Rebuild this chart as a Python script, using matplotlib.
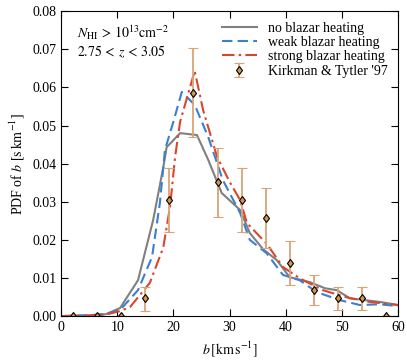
import matplotlib
matplotlib.use('Agg')
import matplotlib.pyplot as plt

plt.rcParams['font.family'] = ['Liberation Serif', 'DejaVu Serif']
plt.rcParams['mathtext.fontset'] = 'stix'
plt.rcParams['font.size'] = 10

# simulated curves
b_none = [0, 5, 8, 10.5, 13.7, 16.4, 18.2, 18.8, 21.2, 24.2, 26.2, 28.6, 31.9, 33.6, 36, 38.4, 40.7, 44.3, 47, 49.1, 51.4, 54, 56.8, 60]
pdf_none = [0, 0.0002, 0.0005, 0.0021, 0.0094, 0.0252, 0.039, 0.0443, 0.048, 0.0475, 0.041, 0.0323, 0.0278, 0.0218, 0.0175, 0.0147, 0.0102, 0.0089, 0.0073, 0.0068, 0.0047, 0.0042, 0.0037, 0.0029]

b_weak = [0, 5, 8, 10.5, 13.7, 16.2, 17.6, 18.5, 20, 21.5, 23.8, 26.2, 28.8, 31.9, 33.6, 36.6, 39.5, 42.5, 45.5, 49.6, 53.2, 56.8, 60]
pdf_weak = [0, 0.0002, 0.0006, 0.0016, 0.0068, 0.0155, 0.0297, 0.0436, 0.051, 0.0588, 0.0554, 0.047, 0.0357, 0.027, 0.020, 0.0165, 0.0108, 0.0094, 0.0063, 0.0042, 0.0029, 0.0031, 0.0026]

b_strong = [0, 5, 8, 10.5, 12.3, 15.8, 18.2, 19.4, 20.3, 21.2, 23.8, 25.3, 27.8, 30.1, 31.9, 33.1, 36.6, 39.5, 42.5, 46.6, 51.4, 55, 60]
pdf_strong = [0, 0.0001, 0.0004, 0.0013, 0.0024, 0.0087, 0.018, 0.0286, 0.0417, 0.051, 0.0643, 0.054, 0.0417, 0.035, 0.0304, 0.0244, 0.019, 0.0129, 0.0099, 0.0068, 0.0047, 0.0037, 0.0029]

# Kirkman & Tytler '97
kt_b = [2.14, 6.43, 10.71, 15.0, 19.29, 23.57, 27.86, 32.14, 36.43, 40.71, 45.0, 49.29, 53.57, 57.86]
kt_pdf = [0, 0, 0, 0.0047, 0.0304, 0.0585, 0.0352, 0.0304, 0.0257, 0.0139, 0.0068, 0.0047, 0.0047, 0]
kt_lo = [0, 0, 0, 0.0013, 0.022, 0.047, 0.026, 0.022, 0.0178, 0.0081, 0.0029, 0.0016, 0.0016, 0]
kt_hi = [0, 0, 0, 0.0076, 0.0388, 0.0703, 0.044, 0.0388, 0.0336, 0.0197, 0.0108, 0.0076, 0.0076, 0]

fig = plt.figure(figsize=(4.07, 3.6), dpi=100)
ax = fig.add_axes([0.15, 0.122, 0.828, 0.847])

ax.plot(b_none, pdf_none, color='#808080', lw=1.5, label='no blazar heating')
ax.plot(b_weak, pdf_weak, color='#3a7fd0', lw=1.5, ls=(0, (5, 2.5)), label='weak blazar heating')
ax.plot(b_strong, pdf_strong, color='#d9462c', lw=1.5, ls=(0, (6, 2, 1.2, 2)), label='strong blazar heating')

err_lo = [p - l for p, l in zip(kt_pdf, kt_lo)]
err_hi = [h - p for p, h in zip(kt_pdf, kt_hi)]
ax.errorbar(kt_b, kt_pdf, yerr=[err_lo, err_hi], fmt='d', ms=4.5, mfc='#d9954e', mec='black', mew=0.8,
            ecolor='#d9a577', elinewidth=1.3, capsize=3.8, capthick=1.3, label="Kirkman & Tytler '97")

ax.set_xlim(0, 60)
ax.set_ylim(0, 0.08)
ax.set_xticks([0, 10, 20, 30, 40, 50, 60])
ax.set_yticks([0.00, 0.01, 0.02, 0.03, 0.04, 0.05, 0.06, 0.07, 0.08])
ax.yaxis.set_major_formatter(matplotlib.ticker.FormatStrFormatter('%.2f'))
ax.tick_params(direction='in', top=True, right=True, length=5)

ax.set_xlabel(r'$b\,[\mathrm{km\,s^{-1}}]$')
ax.set_ylabel(r'PDF of $b$ [$\mathrm{s\,km^{-1}}$]')

ax.text(0.047, 0.928, r'$N_{\rm HI}\,>\,10^{13}\mathrm{cm}^{-2}$', transform=ax.transAxes, va='center')
ax.text(0.047, 0.866, r'$2.75\,<\,z\,<\,3.05$', transform=ax.transAxes, va='center')

ax.legend(loc='upper right', frameon=False, handlelength=2.5, labelspacing=0.1, borderaxespad=0.35)

plt.savefig('out.png', dpi=100)
